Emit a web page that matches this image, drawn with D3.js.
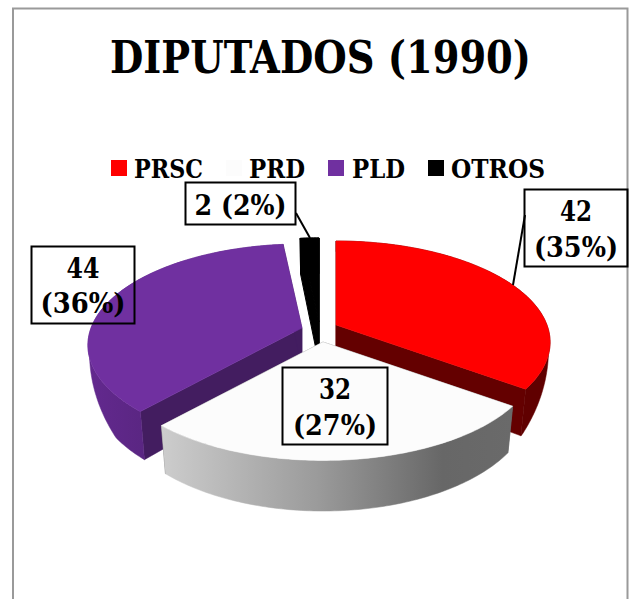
<!DOCTYPE html>
<html><head><meta charset="utf-8">
<script src="https://cdn.jsdelivr.net/npm/d3@7"></script>
<style>html,body{margin:0;padding:0;background:#fff}svg{display:block}</style>
</head><body><svg id="c" width="636" height="599"></svg>
<script>
const categories = ["PRSC","PRD","PLD","OTROS"];
const seats = [42,32,44,2];
const percents = [35,27,36,2];
const topColors = ["#FF0000","#FCFCFC","#7030A0","#000000"];
const wallColors = ["#600000","url(#wGrad)","url(#pGrad)","#000000"];
const edgeColors = ["#640000","#6a6a6a","#431D60","#000000"];
const chartTitle = "DIPUTADOS (1990)";

const FONT = "'DejaVu Serif',serif";
const svg = d3.select("#c");
const defs = svg.append("defs");
function grad(id,x1,x2,stops){
  const g = defs.append("linearGradient").attr("id",id).attr("gradientUnits","userSpaceOnUse")
    .attr("x1",x1).attr("x2",x2).attr("y1",0).attr("y2",0);
  stops.forEach(s=>g.append("stop").attr("offset",s[0]).attr("stop-color",s[1]));
}
grad("wGrad",161,513,[[0,"#cdcdcd"],[0.45,"#9a9a9a"],[0.8,"#676767"],[1,"#6a6a6a"]]);
grad("pGrad",87,145,[[0,"#63298f"],[1,"#5a2682"]]);

svg.append("path").attr("d","M13 599V8.5H627.5V599").attr("fill","none").attr("stroke","#9a9a9a").attr("stroke-width",2);

svg.append("text").text(chartTitle).attr("x",110).attr("y",73)
  .attr("textLength",421).attr("lengthAdjust","spacingAndGlyphs")
  .attr("font-family",FONT).attr("font-weight",700).attr("font-size",45).attr("fill","#000");

// perspective projection of the unit disc
const sx=211, sy=98.3, k=0.17, H=42, conv=0.025;
const wallDrop=d3.scaleLinear().domain([-0.58,-0.15]).range([1,0.3]).clamp(true);
function proj(apex,theta,r=1,z=0){
  const X=r*Math.sin(theta)*(1-conv*z), Y=r*Math.cos(theta), d=1+k*Y;
  return [apex[0]+sx*X/d, apex[1]-sy*Y/d+z*H/d];
}
const apexes=[[336,325],[323,342],[302,328],[319,322]];
const arcs=d3.pie().sort(null).value(d=>d)(seats);
const line=d3.line();
function samples(a0,a1){const n=Math.max(6,Math.ceil((a1-a0)*60));return d3.range(n+1).map(i=>a0+(a1-a0)*i/n);}

const order=[3,2,0,1];
const g=svg.append("g");
order.forEach(i=>{
  const a=arcs[i], ap=apexes[i], ts=samples(a.startAngle,a.endAngle), sw=i===3?1:0.5;
  [a.startAngle,a.endAngle].forEach(t=>{
    const p=[proj(ap,t),proj(ap,t,1,1),proj(ap,0,0,1),proj(ap,0,0)];
    g.append("path").attr("d",line(p)+"Z").attr("fill",edgeColors[i]).attr("stroke",edgeColors[i]).attr("stroke-width",sw);
  });
  const zOf=t=>i===3?1:wallDrop(Math.cos(t));
  const wall=ts.map(t=>proj(ap,t)).concat(ts.slice().reverse().map(t=>proj(ap,t,1,zOf(t))));
  g.append("path").attr("d",line(wall)+"Z").attr("fill",wallColors[i]).attr("stroke",wallColors[i]).attr("stroke-width",sw);
  const top=[proj(ap,0,0)].concat(ts.map(t=>proj(ap,t)));
  g.append("path").attr("d",line(top)+"Z").attr("fill",topColors[i]).attr("stroke",topColors[i]).attr("stroke-width",sw);
});

// legend
const legendSq=[111,226,328,428], legendTx=[134,249,352,451], legendW=[69,56,53,94];
categories.forEach((c,i)=>{
  svg.append("rect").attr("x",legendSq[i]).attr("y",160).attr("width",16).attr("height",16).attr("fill",i===1?"#FCFCFC":topColors[i]);
  svg.append("text").text(c).attr("x",legendTx[i]).attr("y",178)
    .attr("textLength",legendW[i]).attr("lengthAdjust","spacingAndGlyphs")
    .attr("font-family",FONT).attr("font-weight",700).attr("font-size",26).attr("fill","#000");
});

// data labels
const boxes=[[524.5,189.5,103,77],[282.5,367.5,105,77],[31.5,246.5,103,77],[185.5,182.5,110,42]];
const base=[[221,257],[399,435],[278,313],[215]];
const lens=[[32,84],[32,84],[33,85],[92]];
const leaders=[[[525,215],[513,285]],null,null,[[296,213],[310,238]]];
seats.forEach((v,i)=>{
  const b=boxes[i];
  if(leaders[i]) svg.append("path").attr("d",line(leaders[i])).attr("stroke","#000").attr("stroke-width",2).attr("fill","none");
  svg.append("rect").attr("x",b[0]).attr("y",b[1]).attr("width",b[2]).attr("height",b[3]).attr("fill","none").attr("stroke","#000").attr("stroke-width",2);
  const lines=base[i].length===2?[`${v}`,`(${percents[i]}%)`]:[`${v} (${percents[i]}%)`];
  lines.forEach((t,j)=>{
    svg.append("text").text(t).attr("x",b[0]+b[2]/2-lens[i][j]/2).attr("y",base[i][j])
      .attr("textLength",lens[i][j]).attr("lengthAdjust","spacingAndGlyphs")
      .attr("font-family",FONT).attr("font-weight",700).attr("font-size",27).attr("fill","#000");
  });
});
</script></body></html>
